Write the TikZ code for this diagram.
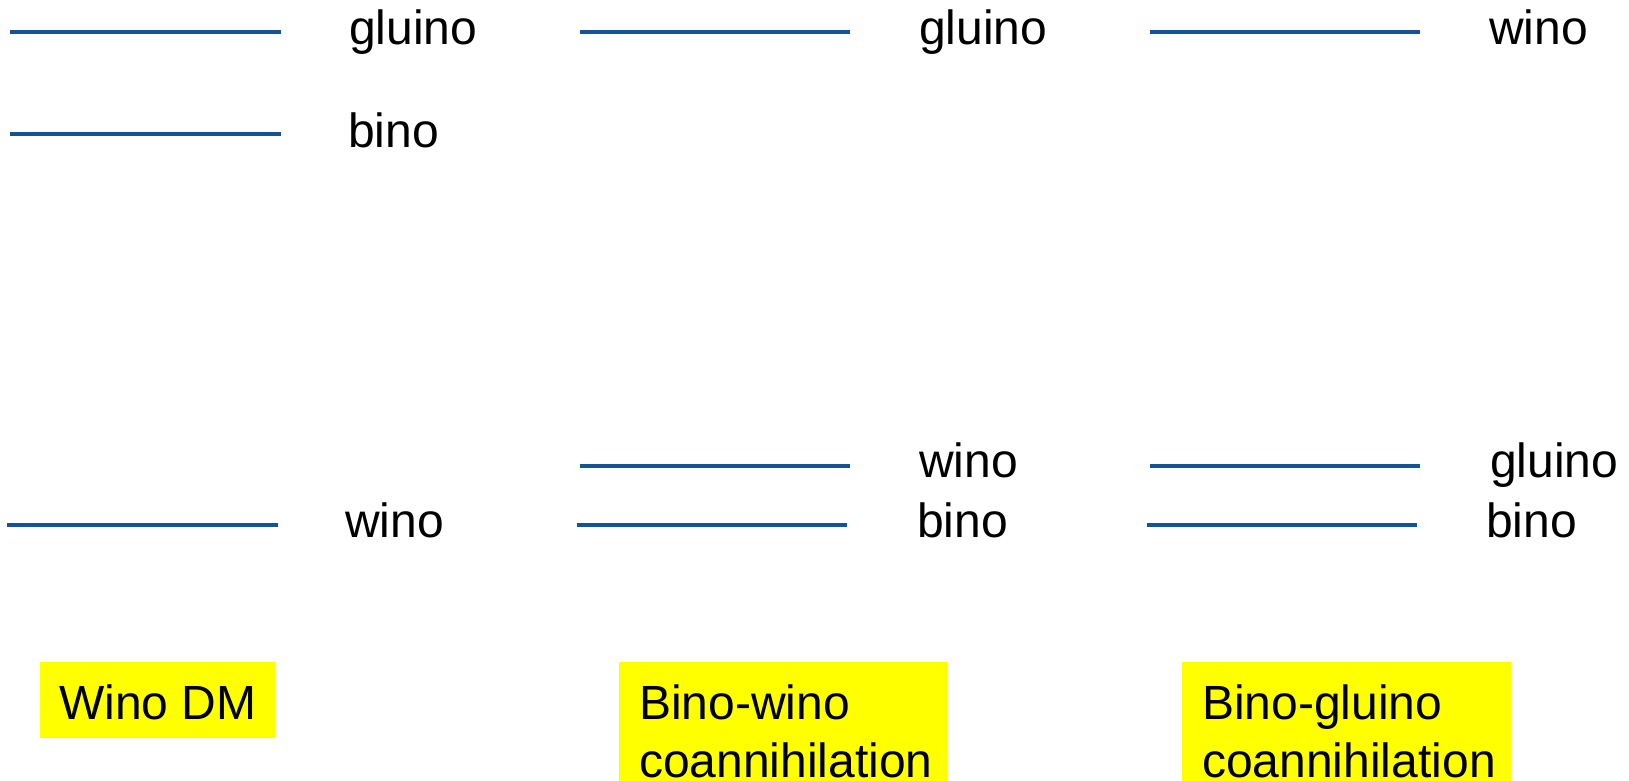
\documentclass[tikz,border=0pt]{standalone}
\usepackage{fontspec}
\setmainfont{Liberation Sans}
\definecolor{levelblue}{RGB}{20,84,150}
\definecolor{tagyellow}{RGB}{255,255,0}
\begin{document}
\begin{tikzpicture}[x=1pt,y=-1pt,
  level/.style={draw=levelblue,line width=3.5pt},
  lbl/.style={anchor=base west,inner sep=0pt,font=\fontsize{48}{58}\selectfont},
  tag/.style={fill=tagyellow,draw=none,anchor=north west,inner sep=0pt}]
\useasboundingbox (0,0) rectangle (1629,781);

% --- Wino DM spectrum ---
\draw[level] (10,32) -- (281,32);
\node[lbl] (g1) at (349,45) {gluino};
\draw[level] (10,134) -- (281,134);
\node[lbl] (b1) at (348,147) {bino};
\draw[level] (7,525) -- (278,525);
\node[lbl] (w1) at (345,537) {wino};

% --- Bino-wino coannihilation spectrum ---
\draw[level] (580,32) -- (850,32);
\node[lbl] (g2) at (919,45) {gluino};
\draw[level] (580,466) -- (850,466);
\node[lbl] (w2) at (919,477) {wino};
\draw[level] (577,525) -- (847,525);
\node[lbl] (b2) at (917,537) {bino};

% --- Bino-gluino coannihilation spectrum ---
\draw[level] (1150,32) -- (1420,32);
\node[lbl] (w3) at (1489,45) {wino};
\draw[level] (1150,466) -- (1420,466);
\node[lbl] (g3) at (1490,477) {gluino};
\draw[level] (1147,525) -- (1417,525);
\node[lbl] (b3) at (1486,537) {bino};

% --- scenario tags ---
\node[tag,minimum width=235,minimum height=76] (t1) at (40,662) {};
\node[lbl] (t1a) at (59,719) {Wino DM};

\node[tag,minimum width=329,minimum height=130] (t2) at (619,662) {};
\node[lbl] (t2a) at (639,719) {Bino-wino};
\node[lbl] (t2b) at (639,777) {coannihilation};

\node[tag,minimum width=329,minimum height=130] (t3) at (1182,662) {};
\node[lbl] (t3a) at (1202,719) {Bino-gluino};
\node[lbl] (t3b) at (1202,777) {coannihilation};
\end{tikzpicture}
\end{document}
